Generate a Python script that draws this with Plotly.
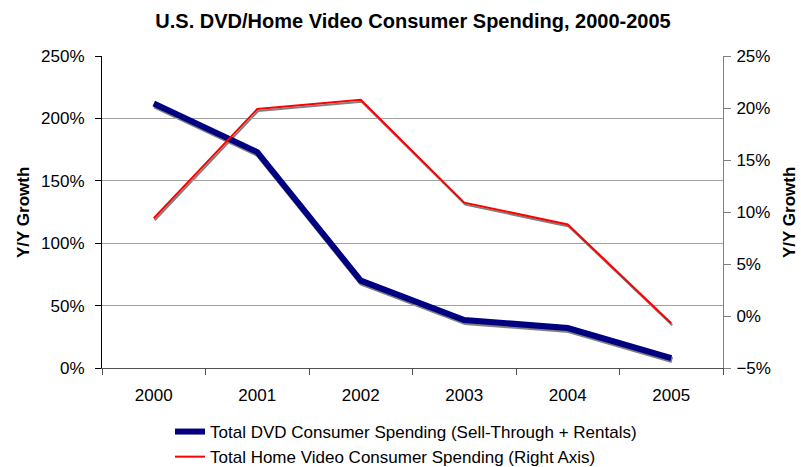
import plotly.graph_objects as go

# Year-over-year growth, U.S. consumer spending
years = ["2000", "2001", "2002", "2003", "2004", "2005"]
dvd_growth = [212, 173, 70, 38.5, 32, 8]                 # % (left axis)
home_video_growth = [9.4, 19.9, 20.8, 10.9, 8.8, -0.7]    # % (right axis)

dvd_name = "Total DVD Consumer Spending (Sell-Through + Rentals)"
hv_name = "Total Home Video Consumer Spending (Right Axis)"

W, H = 801, 467
L, R, T, B = 102, 77, 56, 97
pw, ph = W - L - R, H - T - B
dx, dy = 1, 2  # drop-shadow offset in pixels

FONT = "Liberation Sans, Arial, sans-serif"
SHADOW = "#808080"

fig = go.Figure()

# drop shadows (drawn first, on a subplot nudged right/down)
fig.add_trace(go.Scatter(x=years, y=dvd_growth, xaxis="x", yaxis="y", mode="lines",
                         line=dict(color=SHADOW, width=6), showlegend=False, hoverinfo="skip"))
fig.add_trace(go.Scatter(x=years, y=home_video_growth, xaxis="x", yaxis="y2", mode="lines",
                         line=dict(color=SHADOW, width=2), showlegend=False, hoverinfo="skip"))

# main series
fig.add_trace(go.Scatter(x=years, y=dvd_growth, xaxis="x2", yaxis="y3", mode="lines",
                         name=dvd_name, line=dict(color="#000080", width=6)))
fig.add_trace(go.Scatter(x=years, y=home_video_growth, xaxis="x2", yaxis="y4", mode="lines",
                         name=hv_name, line=dict(color="#FF0000", width=2)))

hidden = dict(visible=False, showgrid=False, zeroline=False)
cat_range = [-0.5, len(years) - 0.5]

fig.update_layout(
    width=W, height=H,
    margin=dict(l=L, r=R, t=T, b=B, autoexpand=False),
    paper_bgcolor="white", plot_bgcolor="rgba(0,0,0,0)",
    font=dict(family=FONT, size=17, color="black"),
    title=dict(text="<b>U.S. DVD/Home Video Consumer Spending, 2000-2005</b>",
               x=0.5, xref="paper", xanchor="center",
               y=1 - 21 / H, yref="container", yanchor="middle",
               font=dict(family=FONT, size=20, color="black")),
    # shadow axes
    xaxis=dict(domain=[dx / pw, 1], range=cat_range, type="category", **hidden),
    yaxis=dict(domain=[0, 1 - dy / ph], range=[0, 250], anchor="x", **hidden),
    yaxis2=dict(range=[-5, 25], overlaying="y", side="right", anchor="x", **hidden),
    # visible axes
    xaxis2=dict(domain=[0, 1 - dx / pw], range=cat_range, type="category", anchor="y3",
                showline=True, linecolor="#505050", linewidth=1,
                ticks="outside", tickson="boundaries", ticklen=6, tickcolor="#505050",
                ticklabelstandoff=12,
                showgrid=False, zeroline=False, tickfont=dict(size=17)),
    yaxis3=dict(domain=[dy / ph, 1], range=[0, 250], dtick=50, ticksuffix="%", anchor="x2",
                showline=True, linecolor="black", linewidth=1,
                ticks="outside", ticklen=6, tickcolor="black", ticklabelstandoff=7,
                showgrid=True, gridcolor="#a0a0a0", gridwidth=1, zeroline=False,
                tickfont=dict(size=17)),
    yaxis4=dict(range=[-5, 25], dtick=5, ticksuffix="%", overlaying="y3", side="right",
                anchor="x2", showline=True, linecolor="#808080", linewidth=1,
                ticks="outside", ticklen=7, tickcolor="#808080", ticklabelstandoff=2,
                showgrid=False, zeroline=False, tickfont=dict(size=17)),
    legend=dict(x=(170 - L) / pw, xanchor="left", y=(H - B - 414) / ph, yanchor="top",
                bgcolor="rgba(0,0,0,0)", font=dict(size=17), tracegroupgap=0),
    annotations=[
        dict(text="<b>Y/Y Growth</b>", textangle=-90, xref="paper", yref="paper",
             x=(23 - L) / pw, y=0.5, showarrow=False, xanchor="center", yanchor="middle",
             font=dict(size=17)),
        dict(text="<b>Y/Y Growth</b>", textangle=-90, xref="paper", yref="paper",
             x=(789 - L) / pw, y=0.5, showarrow=False, xanchor="center", yanchor="middle",
             font=dict(size=17)),
    ],
)

fig.write_html("out.html")
